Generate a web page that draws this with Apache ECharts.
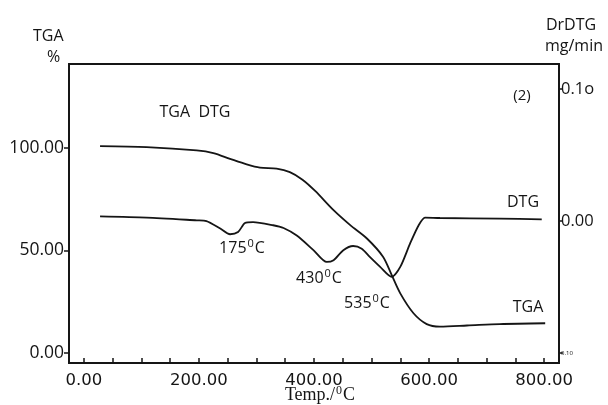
<!DOCTYPE html>
<html>
<head>
<meta charset="utf-8">
<script src="https://cdn.jsdelivr.net/npm/echarts@6/dist/echarts.min.js"></script>
<style>html,body{margin:0;padding:0;background:#fff}#c{width:608px;height:405px}</style>
</head>
<body>
<div id="c"></div>
<script>
// Data
var tgaTemp = [28, 109, 196, 225, 254, 283, 306, 335, 358, 380, 402, 434, 463, 492, 520, 535, 550, 573, 596, 619, 666, 723, 802];
var tgaMass = [100.9, 100.4, 98.8, 97.5, 94.7, 92.0, 90.4, 89.9, 88.2, 84.5, 79.0, 69.6, 62.3, 55.8, 46.9, 38.0, 29.0, 19.3, 14.0, 12.8, 13.3, 14.0, 14.4];
var dtgTemp = [28, 109, 196, 213, 237, 254, 268, 280, 294, 329, 347, 370, 399, 422, 434, 451, 468, 483, 497, 515, 535, 550, 567, 582, 593, 619, 723, 796];
var dtgRate = [0.0035, 0.0026, 0.0005, 0.0, -0.0057, -0.0100, -0.0083, -0.0015, -0.0008, -0.0032, -0.0053, -0.0110, -0.0220, -0.0310, -0.0297, -0.0221, -0.0189, -0.0209, -0.0272, -0.0347, -0.0423, -0.0347, -0.0171, -0.0032, 0.0026, 0.0023, 0.0018, 0.0013];
var xTicks = [0, 50, 100, 150, 200, 250, 300, 350, 400, 450, 500, 550, 600, 650, 700, 750, 800];
var xLabels = [0, 200, 400, 600, 800];
var leftTicks = [0, 50, 100];
var rightTicks = [0.1, 0, -0.1];
var rightTickText = ['0.1o', '0.00', '{s|0.10}'];
var annotations = [
  {t: '175', x: 242, y: 248},
  {t: '430', x: 319, y: 278},
  {t: '535', x: 367, y: 303}
];

function pairs(xs, ys) { return xs.map(function (x, i) { return [x, ys[i]]; }); }

var ink = '#151515';
var sans = 'Open Sans';
var lw = 1.8;
var chart = echarts.init(document.getElementById('c'), null, {renderer: 'canvas'});

var graphics = [
  {type: 'text', left: 33, top: 28, style: {text: 'TGA', font: '16px "Open Sans"', fill: ink}},
  {type: 'text', left: 47, top: 49, style: {text: '%', font: '16px "Open Sans"', fill: ink}},
  {type: 'text', x: 571, y: 25, style: {text: 'DrDTG', font: '16px "Open Sans"', fill: ink, align: 'center', verticalAlign: 'middle'}},
  {type: 'text', x: 574, y: 46, style: {text: 'mg/min', font: '16px "Open Sans"', fill: ink, align: 'center', verticalAlign: 'middle'}},
  {type: 'text', x: 522, y: 96, style: {text: '(2)', font: '15px "Open Sans"', fill: ink, align: 'center', verticalAlign: 'middle'}},
  {type: 'text', x: 195, y: 112, style: {text: 'TGA  DTG', font: '16px "Open Sans"', fill: ink, align: 'center', verticalAlign: 'middle'}},
  {type: 'text', x: 523, y: 202, style: {text: 'DTG', font: '16px "Open Sans"', fill: ink, align: 'center', verticalAlign: 'middle'}},
  {type: 'text', x: 528, y: 307, style: {text: 'TGA', font: '16px "Open Sans"', fill: ink, align: 'center', verticalAlign: 'middle'}},
  {type: 'text', x: 320, y: 395, style: {
    text: 'Temp./{sup|0}C', fill: ink, font: '18px "Liberation Serif"', align: 'center', verticalAlign: 'middle',
    rich: {sup: {fontSize: 12, fontFamily: 'Liberation Serif', padding: [0, 1, 9, 1]}}
  }}
];
annotations.forEach(function (a) {
  graphics.push({type: 'text', x: a.x, y: a.y, style: {
    text: a.t + '{sup|0}C', fill: ink, font: '16px "Open Sans"', align: 'center', verticalAlign: 'middle',
    rich: {sup: {fontSize: 11, fontFamily: 'Open Sans', padding: [0, 1, 8, 1]}}
  }});
});

chart.setOption({
  animation: false,
  backgroundColor: '#fff',
  grid: {left: 69, right: 49, top: 64, bottom: 42, show: true, borderColor: ink, borderWidth: lw, backgroundColor: 'transparent'},
  xAxis: {
    type: 'value', min: -26, max: 826,
    axisLine: {show: true, onZero: false, lineStyle: {color: ink, width: lw}},
    axisTick: {show: true, inside: true, length: 5, customValues: xTicks, lineStyle: {color: ink, width: 1.5}},
    axisLabel: {customValues: xLabels, formatter: function (v) { return v.toFixed(2); },
      color: ink, fontFamily: 'DejaVu Sans', fontSize: 16.5, margin: 9},
    splitLine: {show: false}
  },
  yAxis: [{
    type: 'value', min: -5, max: 141, position: 'left',
    axisLine: {show: true, onZero: false, lineStyle: {color: ink, width: lw}},
    axisTick: {show: true, length: 5, customValues: leftTicks, lineStyle: {color: ink, width: 1.5}},
    axisLabel: {customValues: leftTicks, formatter: function (v) { return v.toFixed(2); },
      color: ink, fontFamily: sans, fontSize: 17.5, margin: 5},
    splitLine: {show: false}
  }, {
    type: 'value', min: -0.1075, max: 0.1189, position: 'right',
    axisLine: {show: true, onZero: false, lineStyle: {color: ink, width: lw}},
    axisTick: {show: true, length: 4, customValues: rightTicks, lineStyle: {color: ink, width: 1.5}},
    axisLabel: {customValues: rightTicks, color: ink, fontFamily: sans, fontSize: 16.5, margin: 2,
      formatter: function (v) { return rightTickText[rightTicks.indexOf(Math.round(v * 100) / 100)]; },
      rich: {s: {fontSize: 6, fontFamily: sans, color: ink}}},
    splitLine: {show: false}
  }],
  series: [{
    name: 'TGA', type: 'line', yAxisIndex: 0, data: pairs(tgaTemp, tgaMass),
    showSymbol: false, smooth: 0.3, lineStyle: {color: ink, width: lw}
  }, {
    name: 'DTG', type: 'line', yAxisIndex: 1, data: pairs(dtgTemp, dtgRate),
    showSymbol: false, smooth: 0.25, lineStyle: {color: ink, width: lw}
  }],
  graphic: graphics
});
</script>
</body>
</html>
